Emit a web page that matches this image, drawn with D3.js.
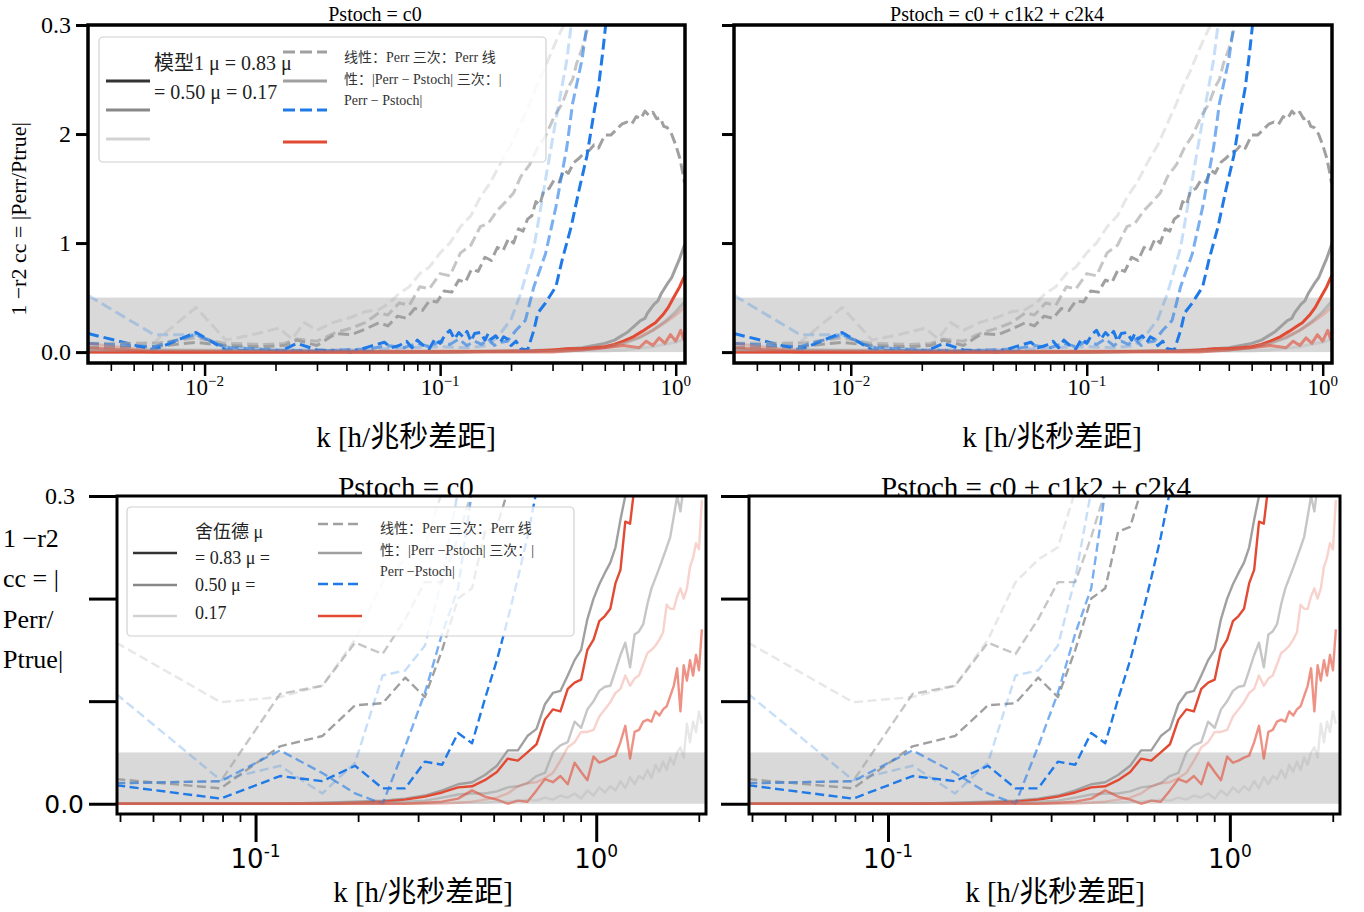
<!DOCTYPE html>
<html><head><meta charset="utf-8">
<script src="https://cdn.jsdelivr.net/npm/d3@7"></script>
<style>
body{margin:0;background:#fff;}
</style></head><body>
<svg id="c" width="1364" height="912" style="background:#fff"></svg>
<script>
// ---------------- DATA ----------------
// top panels: [k, value] pairs (dense spectra, read approximately)
const tGreyDash1 = [[0.0032,0.004],[0.0061,0.005],[0.0092,0.009],[0.0123,0.006],[0.018,0.005],[0.0218,0.006],[0.0247,0.011],[0.030,0.006],[0.036,0.017],[0.042,0.016],[0.048,0.021],[0.055,0.027],[0.060,0.024],[0.066,0.033],[0.072,0.031],[0.078,0.040],[0.084,0.038],[0.090,0.047],[0.097,0.046],[0.104,0.056],[0.112,0.055],[0.12,0.066],[0.128,0.064],[0.136,0.076],[0.145,0.074],[0.155,0.087],[0.165,0.084],[0.175,0.096],[0.185,0.093],[0.195,0.104],[0.205,0.100],[0.215,0.113],[0.225,0.111],[0.235,0.122],[0.245,0.125],[0.255,0.138],[0.265,0.135],[0.275,0.148],[0.29,0.150],[0.305,0.158],[0.32,0.156],[0.335,0.167],[0.35,0.164],[0.37,0.174],[0.39,0.178],[0.41,0.183],[0.43,0.185],[0.45,0.19],[0.47,0.187],[0.50,0.199],[0.53,0.199],[0.56,0.204],[0.59,0.209],[0.62,0.211],[0.65,0.209],[0.68,0.216],[0.71,0.214],[0.74,0.221],[0.77,0.217],[0.80,0.220],[0.83,0.214],[0.86,0.215],[0.89,0.207],[0.92,0.206],[0.96,0.200],[1.0,0.190],[1.04,0.178],[1.07,0.165],[1.09,0.155]];
const tGreyDash2 = [[0.0032,0.008],[0.0061,0.008],[0.0092,0.013],[0.0123,0.008],[0.018,0.007],[0.0218,0.008],[0.0247,0.012],[0.030,0.010],[0.036,0.018],[0.042,0.022],[0.048,0.027],[0.055,0.036],[0.060,0.034],[0.067,0.045],[0.074,0.043],[0.082,0.060],[0.090,0.058],[0.1,0.072],[0.11,0.070],[0.122,0.091],[0.135,0.098],[0.148,0.115],[0.16,0.118],[0.175,0.13],[0.19,0.138],[0.205,0.146],[0.22,0.161],[0.24,0.172],[0.26,0.188],[0.28,0.198],[0.305,0.216],[0.33,0.228],[0.35,0.243],[0.365,0.25],[0.38,0.265],[0.40,0.278],[0.42,0.295],[0.44,0.31]];
const tGreyDash3 = [[0.0032,0.005],[0.0061,0.009],[0.0092,0.041],[0.0123,0.011],[0.016,0.016],[0.0207,0.022],[0.0235,0.012],[0.0265,0.027],[0.030,0.02],[0.035,0.027],[0.042,0.032],[0.048,0.037],[0.055,0.039],[0.061,0.045],[0.067,0.054],[0.074,0.06],[0.082,0.072],[0.09,0.078],[0.1,0.091],[0.11,0.1],[0.122,0.115],[0.135,0.125],[0.148,0.142],[0.163,0.155],[0.18,0.173],[0.2,0.19],[0.22,0.21],[0.24,0.228],[0.255,0.243],[0.275,0.258],[0.295,0.274],[0.315,0.288],[0.335,0.30],[0.35,0.31]];
const tBlueDash1 = [[0.0032,0.017],[0.0061,0.002],[0.0092,0.018],[0.0123,0.002],[0.016,0.001],[0.021,0.001],[0.0247,0.008],[0.030,0.002],[0.042,0.0],[0.050,0.005],[0.058,0.009],[0.062,0.004],[0.067,0.006],[0.072,0.010],[0.076,0.004],[0.080,0.011],[0.085,0.006],[0.090,0.003],[0.095,0.012],[0.100,0.008],[0.105,0.016],[0.11,0.020],[0.115,0.012],[0.12,0.018],[0.125,0.014],[0.13,0.019],[0.135,0.010],[0.14,0.017],[0.148,0.018],[0.155,0.011],[0.16,0.017],[0.165,0.012],[0.172,0.015],[0.18,0.009],[0.186,0.014],[0.193,0.012],[0.20,0.006],[0.21,0.010],[0.22,0.003],[0.235,0.002],[0.25,0.02],[0.26,0.036],[0.28,0.045],[0.31,0.06],[0.33,0.085],[0.36,0.115],[0.39,0.15],[0.42,0.18],[0.45,0.22],[0.47,0.243],[0.49,0.275],[0.51,0.31]];
const tBlueDash2 = [[0.0032,0.008],[0.0061,0.005],[0.0092,0.016],[0.0123,0.004],[0.02,0.002],[0.03,0.001],[0.05,0.003],[0.06,0.006],[0.07,0.004],[0.08,0.008],[0.09,0.005],[0.1,0.01],[0.11,0.007],[0.12,0.012],[0.13,0.006],[0.14,0.01],[0.15,0.007],[0.16,0.012],[0.17,0.006],[0.18,0.009],[0.193,0.01],[0.21,0.02],[0.23,0.029],[0.25,0.06],[0.28,0.09],[0.31,0.133],[0.345,0.188],[0.365,0.228],[0.40,0.268],[0.42,0.30],[0.43,0.31]];
const tBlueDash3 = [[0.0032,0.052],[0.0061,0.016],[0.0092,0.016],[0.0123,0.005],[0.02,0.002],[0.03,0.002],[0.05,0.002],[0.07,0.004],[0.1,0.005],[0.13,0.004],[0.16,0.006],[0.18,0.017],[0.2,0.03],[0.22,0.054],[0.25,0.096],[0.28,0.158],[0.31,0.213],[0.345,0.268],[0.36,0.30],[0.37,0.31]];
const tGreySolid1 = [[0.0032,0.0],[0.1,0.0],[0.2,0.001],[0.3,0.002],[0.35,0.003],[0.4,0.004],[0.45,0.006],[0.5,0.008],[0.55,0.011],[0.6,0.016],[0.63,0.019],[0.66,0.023],[0.71,0.029],[0.74,0.031],[0.76,0.036],[0.81,0.044],[0.84,0.047],[0.87,0.054],[0.93,0.064],[0.96,0.068],[0.99,0.075],[1.04,0.086],[1.08,0.096],[1.1,0.1]];
const tGreySolid2 = [[0.0032,0.002],[0.1,0.0],[0.3,0.001],[0.4,0.002],[0.5,0.004],[0.6,0.008],[0.7,0.013],[0.8,0.020],[0.9,0.028],[1.0,0.037],[1.1,0.047]];
const tGreySolid3 = [[0.0032,0.003],[0.1,0.0],[0.5,0.001],[0.6,0.002],[0.8,0.005],[1.0,0.009],[1.1,0.012]];
const tRedSolid1 = [[0.0032,0.0],[0.1,0.0],[0.25,0.001],[0.3,0.002],[0.35,0.003],[0.4,0.003],[0.45,0.004],[0.5,0.005],[0.55,0.007],[0.6,0.010],[0.66,0.014],[0.72,0.019],[0.78,0.024],[0.82,0.027],[0.88,0.034],[0.93,0.041],[0.98,0.050],[1.04,0.060],[1.08,0.068],[1.1,0.071]];
const tRedSolid2 = [[0.0032,0.004],[0.006,0.0],[0.3,0.0],[0.4,0.002],[0.5,0.004],[0.6,0.006],[0.7,0.004],[0.75,0.010],[0.8,0.006],[0.85,0.013],[0.9,0.008],[0.95,0.016],[1.0,0.010],[1.05,0.020],[1.08,0.012],[1.1,0.022]];
const tRedSolid3 = [[0.0032,0.008],[0.006,0.001],[0.3,0.001],[0.5,0.005],[0.6,0.009],[0.7,0.014],[0.8,0.020],[0.9,0.027],[1.0,0.034],[1.1,0.042]];

// bottom panels: binned k and values per series
const kBottom = [0.039,0.079,0.118,0.157,0.196,0.236,0.275,0.314,0.353,0.393,0.432,0.471,0.511,0.550,0.589,0.628,0.668,0.707,0.746,0.785,0.825,0.864,0.903,0.942,0.982,1.021,1.060,1.100,1.139,1.178,1.217,1.257,1.296,1.335,1.374,1.414,1.453,1.492,1.532,1.571,1.610,1.649,1.689,1.728,1.767,1.806,1.846,1.885,1.924,1.963,2.003,2.042];
const bGreyDash1 = [0.024,0.015,0.056,0.066,0.096,0.098,0.123,0.104,0.150,0.200,0.210,0.265,0.270,0.305];
const bGreyDash2 = [0.020,0.022,0.107,0.115,0.157,0.146,0.180,0.216,0.216,0.260,0.305];
const bGreyDash3 = [0.157,0.099,0.104,0.115,0.160,0.216,0.238,0.250,0.305];
const bBlueDash1 = [0.018,0.005,0.027,0.022,0.037,0.015,0.015,0.041,0.038,0.069,0.059,0.102,0.140,0.180,0.220,0.260,0.305];
const bBlueDash2 = [0.020,0.022,0.052,0.030,0.010,0.000,0.056,0.108,0.166,0.210,0.305];
const bBlueDash3 = [0.107,0.023,0.037,0.010,0.040,0.125,0.130,0.154,0.220,0.305];
const bGreySolid1 = [0,0,0,0.001,0.002,0.003,0.005,0.008,0.013,0.019, 0.021,0.028,0.037,0.052,0.052,0.066,0.073,0.097,0.108,0.110, 0.125,0.140,0.150,0.180,0.200,0.214,0.225,0.235,0.250,0.277, 0.300,0.320];
const bGreySolid2 = [0,0,0,0,0.001,0.001,0.002,0.003,0.006,0.009, 0.010,0.010,0.012,0.016,0.017,0.020,0.027,0.030,0.050,0.057, 0.060,0.080,0.074,0.092,0.100,0.110,0.114,0.115,0.130,0.145, 0.157,0.133,0.165,0.168,0.175,0.195,0.210,0.220,0.230,0.240, 0.250,0.260,0.280,0.300,0.285,0.310];
const bGreySolid3 = [0,0,0,0,0,0,0,0,0.001,0.001, 0.001,0.001,0.002,0.002,0.003,0.004,0.003,0.006,0.004,0.008, 0.006,0.010,0.005,0.013,0.008,0.016,0.011,0.017,0.013,0.022, 0.015,0.026,0.019,0.027,0.024,0.033,0.025,0.038,0.031,0.041, 0.033,0.045,0.038,0.050,0.055,0.045,0.078,0.060,0.080,0.070, 0.090,0.078];
const bRedSolid1 = [0,0,0,0,0.001,0.002,0.004,0.007,0.011,0.016, 0.017,0.023,0.031,0.044,0.042,0.050,0.058,0.082,0.092,0.090, 0.112,0.118,0.121,0.150,0.160,0.178,0.183,0.190,0.215,0.228, 0.275,0.273,0.310];
const bRedSolid2 = [0,0,0,0,0,0,0,0.001,0.002,0.005, 0.013,0.007,0.004,0,0.003,0.002,0.013,0.024,0.021,0.027, 0.019,0.040,0.031,0.023,0.046,0.040,0.042,0.045,0.047,0.060, 0.076,0.044,0.070,0.072,0.080,0.082,0.080,0.090,0.086,0.092, 0.095,0.105,0.115,0.132,0.090,0.135,0.120,0.140,0.125,0.145, 0.130,0.170];
const bRedSolid3 = [0,0,0,0,0,0,0,0,0,0.001, 0.002,0.004,0.006,0.010,0.017,0.020,0.021,0.025,0.030,0.042, 0.055,0.060,0.070,0.070,0.072,0.085,0.092,0.099,0.108,0.112, 0.125,0.115,0.122,0.125,0.136,0.147,0.150,0.154,0.160,0.167, 0.194,0.190,0.190,0.202,0.210,0.200,0.210,0.231,0.240,0.254, 0.248,0.296];

// labels
const muLabels = ["0.83","0.50","0.17"];
const topTitles = ["Pstoch = c0","Pstoch = c0 + c1k2 + c2k4"];
const xAxisLabel = "k [h/兆秒差距]";
const topYTickLabels = ["0.0","1","2","0.3"];
const yTickValues = [0,0.1,0.2,0.3];

// ---------------- STYLE ----------------
const GREY = "#a0a0a0", BLUE = "#1f7ae8", RED = "#e24a33";
const ALPHA = [1, 0.6, 0.25];
const SERIF = '"Liberation Serif","Times New Roman","DejaVu Serif","Noto Sans CJK SC",serif';
const SANS = '"DejaVu Sans",sans-serif';

function topSeries(){
  const g=[tGreyDash1,tGreyDash2,tGreyDash3], gs=[tGreySolid1,tGreySolid2,tGreySolid3],
        b=[tBlueDash1,tBlueDash2,tBlueDash3], r=[tRedSolid1,tRedSolid2,tRedSolid3];
  const out=[];
  for(let i=0;i<3;i++){
    out.push({data:g[i],color:GREY,alpha:ALPHA[i],dash:true});
    out.push({data:gs[i],color:GREY,alpha:ALPHA[i],dash:false});
    out.push({data:b[i],color:BLUE,alpha:ALPHA[i],dash:true});
    out.push({data:r[i],color:RED,alpha:ALPHA[i],dash:false});
  }
  return out;
}
function bottomSeries(){
  const pair = arr => arr.map((v,i)=>[kBottom[i],v]);
  const g=[bGreyDash1,bGreyDash2,bGreyDash3], gs=[bGreySolid1,bGreySolid2,bGreySolid3],
        b=[bBlueDash1,bBlueDash2,bBlueDash3], r=[bRedSolid1,bRedSolid2,bRedSolid3];
  const out=[];
  for(let i=0;i<3;i++){
    out.push({data:pair(g[i]),color:GREY,alpha:ALPHA[i],dash:true});
    out.push({data:pair(gs[i]),color:GREY,alpha:ALPHA[i],dash:false});
    out.push({data:pair(b[i]),color:BLUE,alpha:ALPHA[i],dash:true});
    out.push({data:pair(r[i]),color:RED,alpha:ALPHA[i],dash:false});
  }
  return out;
}

const svg = d3.select("#c");
const defs = svg.append("defs");

function drawPanel(p){
  const x = d3.scaleLog().domain(p.kd).range([p.x0,p.x1]);
  const y = d3.scaleLinear().domain([-0.01,0.3]).range([p.y1,p.y0]);
  const g = svg.append("g");
  defs.append("clipPath").attr("id","clip"+p.id).append("rect")
    .attr("x",p.x0).attr("y",p.y0).attr("width",p.x1-p.x0).attr("height",p.y1-p.y0);
  const pg = g.append("g").attr("clip-path",`url(#clip${p.id})`);
  pg.append("rect").attr("x",p.x0).attr("width",p.x1-p.x0)
    .attr("y",y(0.05)).attr("height",y(0)-y(0.05)).attr("fill","#d9d9d9");
  const line = d3.line().x(d=>x(d[0])).y(d=>y(d[1]));
  p.series.forEach(s=>{
    pg.append("path").attr("d",line(s.data)).attr("fill","none")
      .attr("stroke",s.color).attr("stroke-opacity",s.alpha)
      .attr("stroke-width",p.lw).attr("stroke-linejoin","round")
      .attr("stroke-dasharray",s.dash?p.dash:null);
  });
  const styleAx = (sel,w)=>{sel.select(".domain").remove();sel.selectAll("line").attr("stroke","#000").attr("stroke-width",w);};
  g.append("g").attr("transform",`translate(0,${p.y1})`)
    .call(d3.axisBottom(x).tickValues(p.minor).tickSize(p.minLen).tickFormat(""))
    .call(a=>styleAx(a,p.minW));
  g.append("g").attr("transform",`translate(0,${p.y1})`)
    .call(d3.axisBottom(x).tickValues(p.major).tickSize(p.majLen).tickFormat(""))
    .call(a=>styleAx(a,p.majW));
  g.append("g").attr("transform",`translate(${p.x0},0)`)
    .call(d3.axisLeft(y).tickValues(yTickValues).tickSize(p.yLen).tickFormat(""))
    .call(a=>styleAx(a,p.yW));
  g.append("rect").attr("x",p.x0).attr("y",p.y0).attr("width",p.x1-p.x0).attr("height",p.y1-p.y0)
    .attr("fill","none").attr("stroke","#000").attr("stroke-width",p.frameW);
  p.major.forEach((v,i)=>{
    const t=g.append("text").attr("x",x(v)).attr("y",p.xlY).attr("text-anchor","middle")
      .style("font-family",p.xlFont).style("font-size",p.xlSize+"px").attr("fill","#000");
    t.append("tspan").text("10");
    t.append("tspan").attr("dy",-p.supDy).style("font-size",p.supSize+"px").text(p.exps[i]);
  });
  g.append("text").attr("x",p.xTitleX).attr("y",p.xTitleY).attr("text-anchor","middle")
    .style("font-family",SERIF).style("font-size",p.xTitleSize+"px").text(xAxisLabel);
  g.append("text").attr("x",p.titleX).attr("y",p.titleY).attr("text-anchor","middle")
    .style("font-family",SERIF).style("font-size",p.titleSize+"px").text(p.title);
  return {g,x,y};
}

const topMinor=[0.004,0.005,0.006,0.007,0.008,0.009,0.02,0.03,0.04,0.05,0.06,0.07,0.08,0.09,0.2,0.3,0.4,0.5,0.6,0.7,0.8,0.9];
const botMinor=[0.04,0.05,0.06,0.07,0.08,0.09,0.2,0.3,0.4,0.5,0.6,0.7,0.8,0.9,2];

const topCommon={kd:[0.0032,1.095],y0:25,y1:363,minor:topMinor,major:[0.01,0.1,1],exps:["−2","−1","0"],
  minLen:8,minW:1.6,majLen:13,majW:2.5,yLen:12,yW:3,frameW:3.5,lw:3,dash:"11,5",
  xlY:395,xlFont:SERIF,xlSize:23,supDy:9,supSize:15,titleY:21,titleSize:20,xTitleSize:29,series:topSeries()};
const botCommon={kd:[0.0392,2.10],y0:496,y1:814,minor:botMinor,major:[0.1,1],exps:["-1","0"],
  minLen:8,minW:1.8,majLen:28,majW:3,yLen:28,yW:3,frameW:3,lw:2.4,dash:"9,4.5",
  xlY:868,xlFont:SANS,xlSize:26,supDy:11,supSize:17,titleY:497,titleSize:29,xTitleSize:29,series:bottomSeries()};

const TL = drawPanel(Object.assign({},topCommon,{id:"tl",x0:88,x1:685,title:topTitles[0],titleX:375,xTitleX:406,xTitleY:447}));
const TR = drawPanel(Object.assign({},topCommon,{id:"tr",x0:734,x1:1332,title:topTitles[1],titleX:997,xTitleX:1052,xTitleY:447}));
const BL = drawPanel(Object.assign({},botCommon,{id:"bl",x0:117,x1:706,title:topTitles[0],titleX:406,xTitleX:423,xTitleY:902}));
const BR = drawPanel(Object.assign({},botCommon,{id:"br",x0:749,x1:1340,title:topTitles[1],titleX:1036,xTitleX:1055,xTitleY:902}));

yTickValues.forEach((v,i)=>{
  TL.g.append("text").attr("x",71).attr("y",TL.y(v)).attr("dy","0.34em").attr("text-anchor","end")
    .style("font-family",SERIF).style("font-size","24px").text(topYTickLabels[i]);
});
BL.g.append("text").attr("x",75).attr("y",BL.y(0.3)).attr("dy","0.34em").attr("text-anchor","end")
  .style("font-family",SERIF).style("font-size","24px").text("0.3");
BL.g.append("text").attr("x",84).attr("y",BL.y(0)).attr("dy","0.36em").attr("text-anchor","end")
  .style("font-family",SANS).style("font-size","25px").text("0.0");

svg.append("text").attr("transform","translate(26,219) rotate(-90)").attr("text-anchor","middle")
  .style("font-family",SERIF).style("font-size","22px").text("1 −r2 cc = |Perr/Ptrue|");
const byl = ["1 −r2","cc = |","Perr/","Ptrue|"];
const bylY = [547,587,628,668];
byl.forEach((s,i)=>svg.append("text").attr("x",3).attr("y",bylY[i])
  .style("font-family",SERIF).style("font-size","26px").text(s));

function legend(L){
  const g=svg.append("g");
  g.append("rect").attr("x",L.x).attr("y",L.y).attr("width",L.w).attr("height",L.h).attr("rx",4)
    .attr("fill","#fff").attr("fill-opacity",0.8).attr("stroke","#d0d0d0").attr("stroke-width",1.2);
  const c1=["#333333","#888888","#d3d3d3"];
  L.h1y.forEach((yy,i)=>g.append("line").attr("x1",L.h1x).attr("x2",L.h1x+44).attr("y1",yy).attr("y2",yy)
    .attr("stroke",c1[i]).attr("stroke-width",L.hw));
  const c2=[{c:GREY,d:true},{c:GREY,d:false},{c:BLUE,d:true},{c:RED,d:false}];
  L.h2y.forEach((yy,i)=>g.append("line").attr("x1",L.h2x).attr("x2",L.h2x+44).attr("y1",yy).attr("y2",yy)
    .attr("stroke",c2[i].c).attr("stroke-width",L.hw).attr("stroke-dasharray",c2[i].d?L.dash:null));
  L.t1.forEach((s,i)=>g.append("text").attr("x",L.t1x).attr("y",L.t1y[i])
    .style("font-family",SERIF).style("font-size",L.t1s+"px").attr("fill","#222").text(s));
  L.t2.forEach((s,i)=>g.append("text").attr("x",L.t2x).attr("y",L.t2y[i])
    .style("font-family",SERIF).style("font-size",L.t2s+"px").attr("fill","#333").text(s));
}
legend({x:99,y:37,w:447,h:125,h1x:106,h1y:[81,110,139],h2x:283,h2y:[52,81,110,142],hw:3,dash:"12,5",
  t1x:154,t1y:[70,99],t1s:20,t1:["模型1 μ = "+muLabels[0]+" μ","= "+muLabels[1]+" μ = "+muLabels[2]],
  t2x:344,t2y:[62,84,105],t2s:14,t2:["线性：Perr 三次：Perr 线","性：|Perr − Pstoch| 三次：|","Perr − Pstoch|"]});
legend({x:127,y:507,w:447,h:129,h1x:133,h1y:[553,585,616],h2x:318,h2y:[524,553,584,616],hw:2.6,dash:"10,5",
  t1x:195,t1y:[538,564,591,619],t1s:18,t1:["舍伍德 μ","= "+muLabels[0]+" μ =",muLabels[1]+" μ =",muLabels[2]],
  t2x:380,t2y:[533,555,576],t2s:14,t2:["线性：Perr 三次：Perr 线","性：|Perr −Pstoch| 三次：|","Perr −Pstoch|"]});
</script>
</body></html>
